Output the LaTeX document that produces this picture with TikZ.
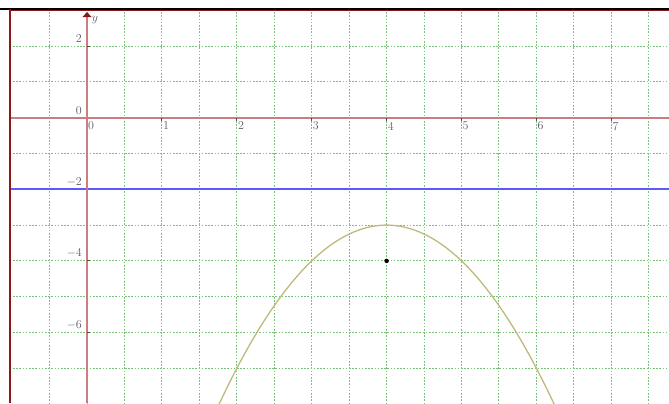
\documentclass[tikz,border=0pt]{standalone}
\usepackage{xcolor}
\definecolor{gridgreen}{RGB}{120,195,120}
\definecolor{axisred}{RGB}{205,125,125}
\definecolor{framered}{RGB}{140,25,25}
\definecolor{lineblue}{RGB}{90,90,255}
\definecolor{curveolive}{RGB}{190,185,125}
\definecolor{lblgray}{RGB}{90,90,105}
\usepackage{tikz}
\usetikzlibrary{arrows.meta, positioning}

\begin{document}
\begin{tikzpicture}[x=74.9pt, y=35.8pt,
  gridline/.style={draw=gridgreen, line width=1pt, dash pattern=on 1.6pt off 1.6pt},
  axisline/.style={draw=axisred, line width=1.6pt},
  tickmark/.style={draw=black!70, line width=1pt},
  xlbl/.style={anchor=north west, inner sep=1pt, yshift=-3pt,
               font=\fontsize{12}{14}\selectfont, text=lblgray},
  ylbl/.style={anchor=south east, inner sep=1pt, xshift=-4pt, yshift=2pt,
               font=\fontsize{12}{14}\selectfont, text=lblgray},
  curve/.style={draw=curveolive, line width=1.3pt},
  focusdot/.style={circle, fill=black, inner sep=0pt, minimum size=4.5pt}
]
\useasboundingbox (-1.1616,-7.969) rectangle (7.770,3.288);

% Grid
\begin{scope}
  \clip (-0.99,-7.969) rectangle (7.770,2.98);
  \draw[gridline, xstep=0.5, ystep=1] (-1.5,-8) grid (8,3);
\end{scope}

% Directrix
\fill[lineblue] (-1.028,-2.025) rectangle (7.770,-1.975);

% Axes
\coordinate (xstart) at (-1.028,0);
\coordinate (xend) at (7.770,0);
\coordinate (ystart) at (0,-7.969);
\coordinate (ytip) at (0,2.95);
\draw[axisline] (xstart) -- (xend);
\draw[axisline, -{Triangle[length=5pt, width=9pt, color=framered, fill=framered]}] (ystart) -- (ytip);
\node[font=\fontsize{13}{15}\selectfont, text=lblgray] (ylab) at (0.107,2.73) {$y$};

% Ticks
\draw[tickmark] (1,0) -- ++(0pt,-3pt);
\draw[tickmark] (2,0) -- ++(0pt,-3pt);
\draw[tickmark] (3,0) -- ++(0pt,-3pt);
\draw[tickmark] (4,0) -- ++(0pt,-3pt);
\draw[tickmark] (5,0) -- ++(0pt,-3pt);
\draw[tickmark] (6,0) -- ++(0pt,-3pt);
\draw[tickmark] (7,0) -- ++(0pt,-3pt);
\draw[tickmark] (0,2) -- ++(3pt,0pt);
\draw[tickmark] (0,-4) -- ++(3pt,0pt);
\draw[tickmark] (0,-6) -- ++(3pt,0pt);

% Tick labels
\node[xlbl] (x0) at (0,0) {0};
\node[xlbl] (x1) at (1,0) {1};
\node[xlbl] (x2) at (2,0) {2};
\node[xlbl] (x3) at (3,0) {3};
\node[xlbl] (x4) at (4,0) {4};
\node[xlbl] (x5) at (5,0) {5};
\node[xlbl] (x6) at (6,0) {6};
\node[xlbl] (x7) at (7,0) {7};
\node[ylbl] (y2) at (0,2) {2};
\node[ylbl] (y0) at (0,0) {0};
\node[ylbl] (ym2) at (0,-2) {$-2$};
\node[ylbl] (ym4) at (0,-4) {$-4$};
\node[ylbl] (ym6) at (0,-6) {$-6$};

% Parabola and focus
\draw[curve] plot[domain=1.76:6.24, samples=90, smooth] (\x, {-3-(\x-4)^2});
\node[focusdot] (focus) at (4,-4) {};

% Frame
\draw[black, line width=1.5pt] (-1.1616,3.036) -- (7.770,3.036);
\draw[framered, line width=1pt] (-1.028,2.989) -- (7.770,2.989);
\draw[framered, line width=2pt] (-1.028,3.036) -- (-1.028,-7.969);
\end{tikzpicture}
\end{document}
